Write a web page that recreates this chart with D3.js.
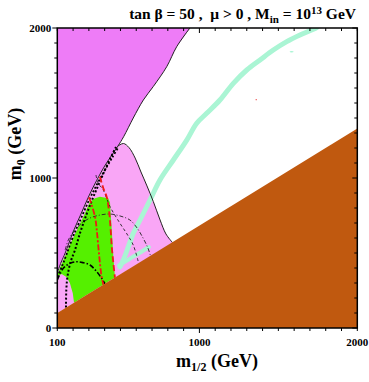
<!DOCTYPE html>
<html>
<head>
<meta charset="utf-8">
<script src="https://cdn.jsdelivr.net/npm/d3@7/dist/d3.min.js"></script>
<style>
	body { margin: 0; background: #fff; }
	text { font-family: "Liberation Serif", "DejaVu Serif", serif; font-weight: bold; fill: #000; }
</style>
</head>
<body>
<svg id="chart" width="369" height="382"></svg>
<script>
// points are [m1/2, m0] in GeV
const xTickValues = d3.range(100, 2001, 100)
const yTickValues = d3.range(0, 2001, 100)
const xTickLabels = [100, 1000, 2000]
const yTickLabels = [0, 1000, 2000]

// stau LSP region edge (brown)
const stauEdge = [[100, 100], [2000, 1330]]

// upper-left forbidden region edge (magenta)
const magentaEdge = [
	[100, 370], [125, 440], [150, 500], [200, 640], [250, 760], [300, 880],
	[350, 985], [400, 1080], [450, 1160], [484, 1213], [520, 1275], [581, 1400],
	[645, 1520], [708, 1610], [793, 1742], [856, 1875], [940, 2000]
]

// light pink region, right edge from the peak down to the stau edge
const pinkEdge = [
	[484, 1213], [519, 1230], [554, 1203], [593, 1133], [630, 1040], [668, 947],
	[708, 843], [751, 720], [788, 627], [830, 569]
]

// green region outline
const greenOutline = [
	[100, 355], [125, 420], [150, 480], [180, 555], [223, 650], [265, 742],
	[307, 842], [339, 865], [370, 875], [423, 865], [434, 833], [445, 653],
	[455, 475], [465, 336], [206, 169], [198, 231], [180, 298], [160, 338],
	[128, 360], [100, 345]
]

// relic density strip (mint)
const strip = [
	[497, 407], [518, 453], [550, 542], [581, 631], [624, 720], [687, 853],
	[750, 987], [835, 1120], [920, 1253], [983, 1365], [1046, 1431], [1130, 1520],
	[1215, 1631], [1300, 1720], [1384, 1787], [1468, 1853], [1553, 1909],
	[1637, 1953], [1721, 1991], [1745, 2005]
]
const stripFoot = [[490, 417], [560, 462], [620, 500], [680, 540]]
const mintSpeck = [1584, 1842]
const redSpeck = [1360, 1522]

// contours
const dottedA = [
	[155, 136], [157, 253], [165, 347], [184, 440], [212, 520], [244, 633],
	[286, 760], [320, 853], [358, 947], [396, 1040], [434, 1127], [472, 1207]
]
const dottedB = [
	[100, 340], [130, 412], [160, 495], [200, 610], [250, 730], [300, 850],
	[350, 955], [400, 1050], [450, 1140], [484, 1200]
]
const dashDotSmall = [
	[100, 320], [138, 398], [180, 431], [223, 442], [265, 435], [307, 420],
	[350, 375], [381, 331], [402, 295]
]
const dashDotLarge = [
	[150, 520], [170, 587], [212, 653], [256, 700], [307, 733], [370, 753],
	[434, 760], [497, 747], [560, 720], [605, 667], [643, 600], [674, 533], [690, 482]
]
const dashedThin = [
	[345, 1020], [358, 967], [391, 920], [434, 809], [497, 698], [541, 627],
	[581, 553], [615, 433]
]
const redDashDot = [
	[300, 870], [307, 853], [339, 740], [350, 653], [360, 540], [370, 433],
	[381, 340], [392, 289]
]
const redDashed = [
	[370, 1009], [391, 933], [413, 873], [429, 767], [438, 653], [445, 540],
	[455, 433], [465, 336]
]

const svg = d3.select('#chart')
const plotLeft = 57.3
const plotRight = 357.3
const plotTop = 28
const plotBottom = 328

const x = d3.scaleLinear().domain([100, 2000]).range([plotLeft, plotRight])
const y = d3.scaleLinear().domain([0, 2000]).range([plotBottom, plotTop])

const smooth = d3.line().x(d => x(d[0])).y(d => y(d[1])).curve(d3.curveCatmullRom)
const straight = d3.line().x(d => x(d[0])).y(d => y(d[1]))

svg.append('clipPath').attr('id', 'plot')
	.append('rect')
	.attr('x', plotLeft).attr('y', plotTop)
	.attr('width', plotRight - plotLeft).attr('height', plotBottom - plotTop)

const plot = svg.append('g').attr('clip-path', 'url(#plot)')

// magenta region
plot.append('path')
	.attr('d', straight(magentaEdge.concat([[100, 2000]])) + 'Z')
	.attr('fill', '#ee7cf7')

// light pink region
const pinkArea = magentaEdge.filter(d => d[0] <= 484)
	.concat(pinkEdge.slice(1))
	.concat([[100, 100]])
plot.append('path')
	.attr('d', straight(pinkArea) + 'Z')
	.attr('fill', '#f9a6f6')

// green region
plot.append('path')
	.attr('d', straight(greenOutline) + 'Z')
	.attr('fill', '#55f000')

// mint strip
plot.append('path')
	.attr('d', smooth(strip))
	.attr('fill', 'none')
	.attr('stroke', '#aaf5d4')
	.attr('stroke-width', 5)
	.attr('stroke-linecap', 'round')
plot.append('path')
	.attr('d', smooth(stripFoot))
	.attr('fill', 'none')
	.attr('stroke', '#aaf5d4')
	.attr('stroke-width', 4)
	.attr('stroke-linecap', 'round')
plot.append('ellipse')
	.attr('cx', x(mintSpeck[0])).attr('cy', y(mintSpeck[1]))
	.attr('rx', 2).attr('ry', 0.8)
	.attr('fill', '#aaf5d4')
plot.append('ellipse')
	.attr('cx', x(redSpeck[0])).attr('cy', y(redSpeck[1]))
	.attr('rx', 0.8).attr('ry', 0.6)
	.attr('fill', '#f06060')

// region edges
plot.append('path')
	.attr('d', smooth(magentaEdge))
	.attr('fill', 'none')
	.attr('stroke', '#222')
	.attr('stroke-width', 1)
plot.append('path')
	.attr('d', smooth(pinkEdge))
	.attr('fill', 'none')
	.attr('stroke', '#222')
	.attr('stroke-width', 1)

// contour lines
const contours = [
	{ pts: dottedA, color: '#000', width: 2, dash: '2,2' },
	{ pts: dottedB, color: '#000', width: 1.8, dash: '2,2' },
	{ pts: dashDotSmall, color: '#000', width: 1.6, dash: '5,2,1.5,2' },
	{ pts: dashDotLarge, color: '#222', width: 0.9, dash: '4,2,1,2' },
	{ pts: dashedThin, color: '#222', width: 0.9, dash: '3,2.5' },
	{ pts: redDashDot, color: '#f01818', width: 1.8, dash: '6,2,2,2' },
	{ pts: redDashed, color: '#f01818', width: 1.8, dash: '6,3' }
]
contours.forEach(c => {
	plot.append('path')
		.attr('d', smooth(c.pts))
		.attr('fill', 'none')
		.attr('stroke', c.color)
		.attr('stroke-width', c.width)
		.attr('stroke-dasharray', c.dash)
})

// brown region
plot.append('path')
	.attr('d', straight(stauEdge.concat([[2000, 0], [100, 0]])) + 'Z')
	.attr('fill', '#c0590f')

// frame
svg.append('rect')
	.attr('x', plotLeft).attr('y', plotTop)
	.attr('width', plotRight - plotLeft).attr('height', plotBottom - plotTop)
	.attr('fill', 'none')
	.attr('stroke', '#000')
	.attr('stroke-width', 1.5)

// ticks: bottom and left point out, top and right point in
const ticks = svg.append('g').attr('stroke', '#000').attr('stroke-width', 1)
xTickValues.forEach(v => {
	const len = v === 1000 ? 5 : 3
	ticks.append('line').attr('x1', x(v)).attr('x2', x(v)).attr('y1', plotBottom).attr('y2', plotBottom + len)
	ticks.append('line').attr('x1', x(v)).attr('x2', x(v)).attr('y1', plotTop).attr('y2', plotTop + len)
})
yTickValues.forEach(v => {
	const len = v % 1000 === 0 ? 5 : 3
	ticks.append('line').attr('x1', plotLeft).attr('x2', plotLeft - len).attr('y1', y(v)).attr('y2', y(v))
	ticks.append('line').attr('x1', plotRight).attr('x2', plotRight - len).attr('y1', y(v)).attr('y2', y(v))
})

svg.selectAll('.xlab')
	.data(xTickLabels)
	.enter()
	.append('text')
	.attr('x', d => x(d))
	.attr('y', plotBottom + 18)
	.attr('text-anchor', 'middle')
	.attr('font-size', 11)
	.text(d => d)

svg.selectAll('.ylab')
	.data(yTickLabels)
	.enter()
	.append('text')
	.attr('x', plotLeft - 6)
	.attr('y', d => y(d) + 4)
	.attr('text-anchor', 'end')
	.attr('font-size', 11)
	.text(d => d)

// axis titles
const xTitle = svg.append('text')
	.attr('x', 217)
	.attr('y', 367)
	.attr('text-anchor', 'middle')
	.attr('font-size', 18)
xTitle.append('tspan').text('m')
xTitle.append('tspan').attr('font-size', 12).attr('dy', 4).text('1/2')
xTitle.append('tspan').attr('dy', -4).text(' (GeV)')

const yTitle = svg.append('text')
	.attr('transform', 'translate(21,144) rotate(-90)')
	.attr('text-anchor', 'middle')
	.attr('font-size', 18)
yTitle.append('tspan').text('m')
yTitle.append('tspan').attr('font-size', 12).attr('dy', 4).text('0')
yTitle.append('tspan').attr('dy', -4).text(' (GeV)')

// title
const title = svg.append('text')
	.attr('x', 356)
	.attr('y', 19)
	.attr('text-anchor', 'end')
	.attr('font-size', 15.5)
title.append('tspan').text('tan \u03b2 = 50 ,\u00a0 \u03bc > 0 , M')
title.append('tspan').attr('font-size', 11).attr('dy', 4).text('in')
title.append('tspan').attr('dy', -4).text(' = 10')
title.append('tspan').attr('font-size', 11).attr('dy', -5).text('13')
title.append('tspan').attr('dy', 5).text(' GeV')
</script>
</body>
</html>
